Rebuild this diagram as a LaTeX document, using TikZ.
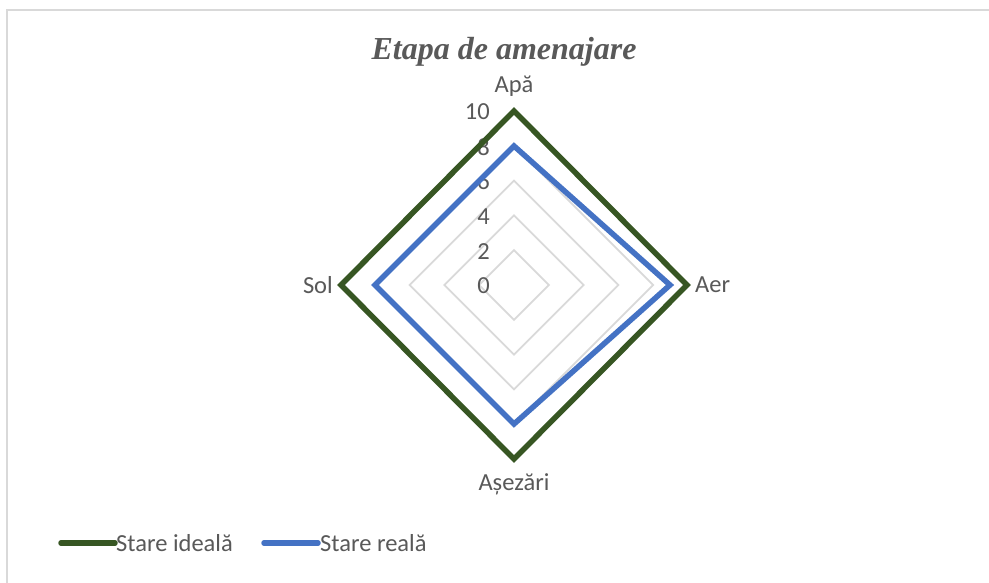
\documentclass[tikz,border=0pt]{standalone}
\usepackage{fontspec}
\setmainfont{Carlito}
\newfontfamily\titlefont{Liberation Serif}
\definecolor{txtgray}{HTML}{595959}
\definecolor{gridgray}{HTML}{D9D9D9}
\definecolor{idealgreen}{HTML}{375623}
\definecolor{realblue}{HTML}{4472C4}
\begin{document}
\begin{tikzpicture}[x=1pt,y=-1pt,
  lbl/.style={text=txtgray,font=\fontsize{24.5}{28}\selectfont,inner sep=0pt},
  tick/.style={text=txtgray,font=\fontsize{24.5}{28}\selectfont,inner sep=0pt,anchor=east},
  gridline/.style={draw=gridgray,line width=1.8pt},
  ideal/.style={draw=idealgreen,line width=5.5pt,line join=miter},
  real/.style={draw=realblue,line width=5.5pt,line join=miter},
  legline/.style={line width=5.5pt,line cap=round}]
\useasboundingbox (0,0) rectangle (989,582);
\fill[white] (0,0) rectangle (989,582);
\draw[gridgray,line width=1.5pt] (7,600) -- (7,10) -- (1000,10);
% grid
\foreach \r in {2,4,6,8,10}{
  \draw[gridline] (514,{285-17.4*\r}) -- ({514+17.4*\r},285) -- (514,{285+17.4*\r}) -- ({514-17.4*\r},285) -- cycle;
}
% tick labels
\foreach \r in {0,2,4,6,8,10}{
  \node[tick] (t\r) at (490,{286-17.4*\r}) {\r};
}
% series
\draw[ideal] (514,111) -- (687,285) -- (514,459) -- (341,285) -- cycle;
\draw[real] (514,146) -- (670,285) -- (514,424) -- (375,285) -- cycle;
% axis labels
\node[lbl] (apa) at (514,86) {Apă};
\node[lbl,anchor=west] (aer) at (695,285) {Aer};
\node[lbl,anchor=east] (sol) at (333,285) {Sol};
\node[lbl] (asez) at (514,484) {Așezări};
% title
\node[text=txtgray,font=\titlefont\fontsize{32}{36}\selectfont\bfseries\itshape,inner sep=0pt] (title) at (504,52) {Etapa de amenajare};
% legend
\coordinate (g1) at (61,543);
\coordinate (g2) at (115,543);
\coordinate (b1) at (264,543);
\coordinate (b2) at (318,543);
\draw[legline,idealgreen] (g1) -- (g2);
\draw[legline,realblue] (b1) -- (b2);
\node[lbl,anchor=west] (li) at (116,543) {Stare ideală};
\node[lbl,anchor=west] (lr) at (320,543) {Stare reală};
\end{tikzpicture}
\end{document}
